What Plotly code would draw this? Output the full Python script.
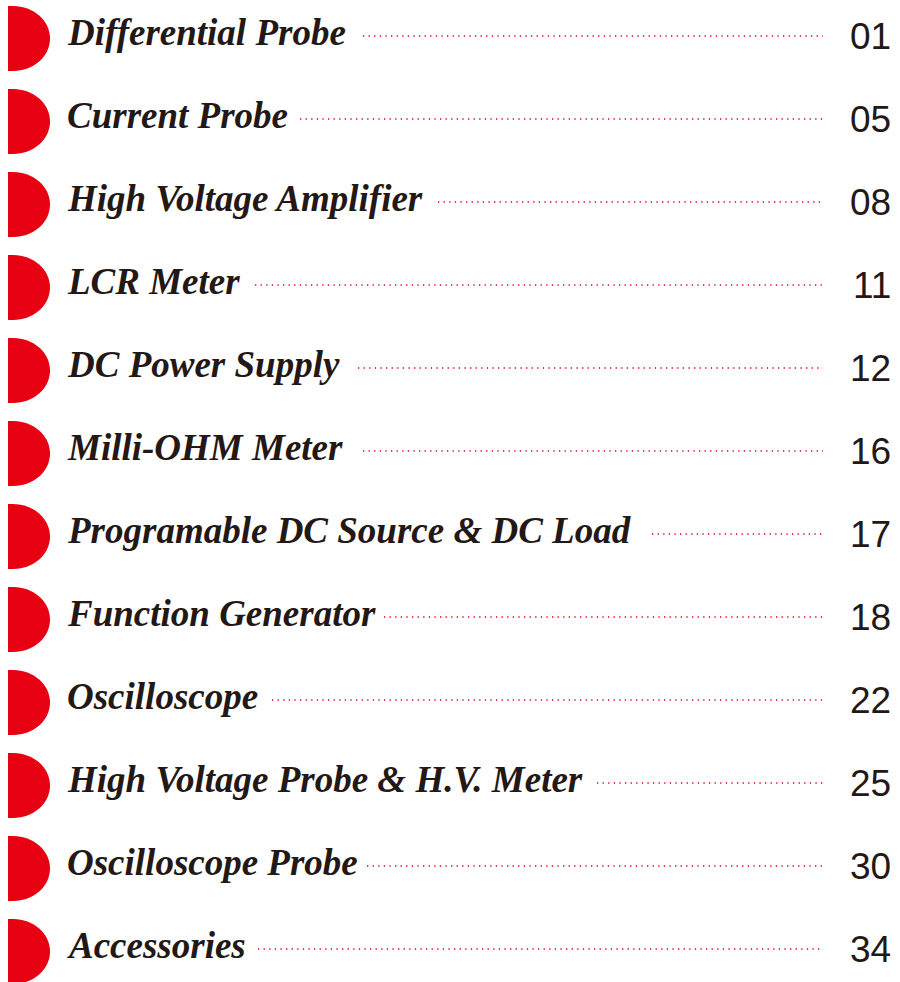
import plotly.graph_objects as go

titles = [
    "Differential Probe",
    "Current Probe",
    "High Voltage Amplifier",
    "LCR Meter",
    "DC Power Supply",
    "Milli-OHM Meter",
    "Programable DC Source & DC Load",
    "Function Generator",
    "Oscilloscope",
    "High Voltage Probe & H.V. Meter",
    "Oscilloscope Probe",
    "Accessories",
]
pages = ["01", "05", "08", "11", "12", "16", "17", "18", "22", "25", "30", "34"]
dot_start = [363, 300, 438, 255, 358, 363, 652, 384, 272, 597, 367, 258]

W, H = 900, 982
RED = "#E60012"
INK = "#231815"
ROW0, STEP = 38.5, 83.0
TOP_H = 32.5

fig = go.Figure()
shapes = []
annotations = []
k = 0.5523
for i, (t, p, ds) in enumerate(zip(titles, pages, dot_start)):
    cy = ROW0 + i * STEP
    y0, y1 = cy - TOP_H, cy + TOP_H
    x0, xc, xr = 8, 13, 50
    rx = xr - xc
    path = (
        f"M {x0},{y0} L {xc},{y0} "
        f"C {xc + rx * k},{y0} {xr},{cy - TOP_H * k} {xr},{cy} "
        f"C {xr},{cy + TOP_H * k} {xc + rx * k},{y1} {xc},{y1} "
        f"L {x0},{y1} Z"
    )
    shapes.append(dict(type="path", path=path, fillcolor=RED,
                       line=dict(width=0), xref="x", yref="y", layer="below"))
    shapes.append(dict(type="line", x0=ds, x1=823, y0=cy - 2.5, y1=cy - 2.5,
                       xref="x", yref="y",
                       line=dict(color=RED, width=1.3, dash="1.3px,4.3px")))
    annotations.append(dict(x=65, y=cy - 6, xref="x", yref="y", text=t,
                            showarrow=False, xanchor="left", yanchor="middle",
                            font=dict(family="Liberation Serif", size=37,
                                      color=INK, weight="bold", style="italic")))
    annotations.append(dict(x=893, y=cy - 2, xref="x", yref="y", text=p,
                            showarrow=False, xanchor="right", yanchor="middle",
                            font=dict(family="Liberation Sans", size=37,
                                      color=INK)))

fig.update_layout(
    width=W, height=H,
    margin=dict(l=0, r=0, t=0, b=0),
    paper_bgcolor="white", plot_bgcolor="white",
    xaxis=dict(range=[0, W], visible=False, fixedrange=True),
    yaxis=dict(range=[H, 0], visible=False, fixedrange=True),
    shapes=shapes,
    annotations=annotations,
    showlegend=False,
)
fig.write_html(
    "out.html",
    config={"displayModeBar": False},
    post_script="document.body.style.margin='0';document.body.style.overflow='hidden';",
)
